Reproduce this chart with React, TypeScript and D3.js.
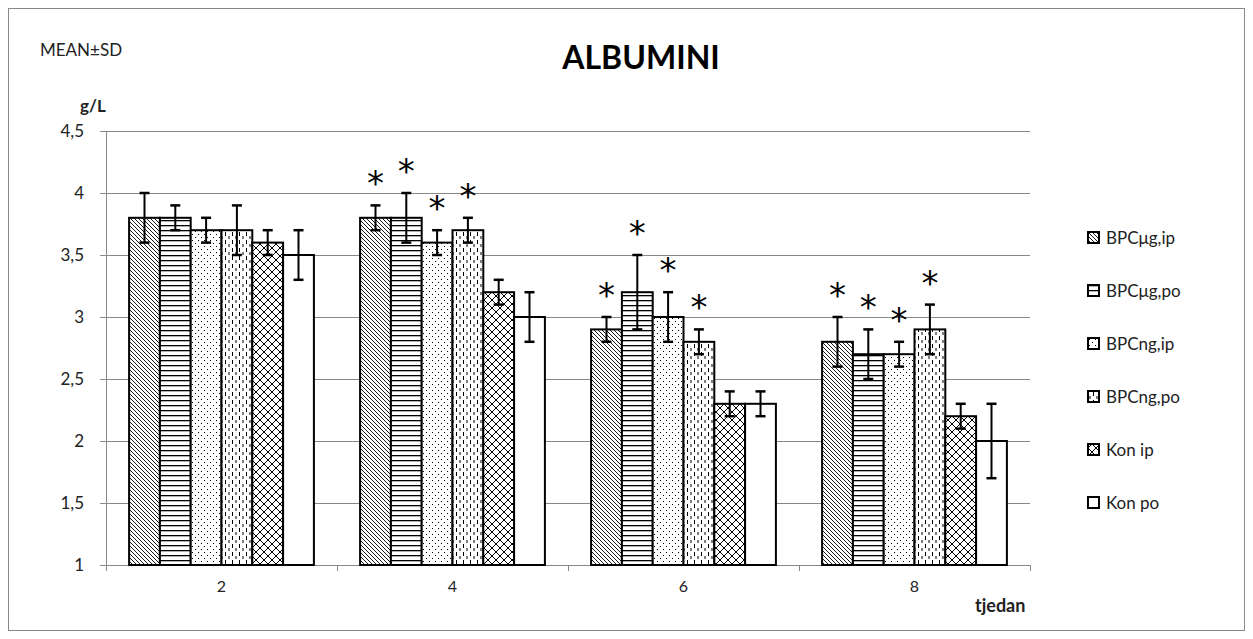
import React from "react";
import * as d3 from "d3";

const weeks = ["2", "4", "6", "8"];
const seriesNames = ["BPCμg,ip", "BPCμg,po", "BPCng,ip", "BPCng,po", "Kon ip", "Kon po"];
// means per series, across weeks
const means = [
  [3.8, 3.8, 2.9, 2.8],
  [3.8, 3.8, 3.2, 2.7],
  [3.7, 3.6, 3.0, 2.7],
  [3.7, 3.7, 2.8, 2.9],
  [3.6, 3.2, 2.3, 2.2],
  [3.5, 3.0, 2.3, 2.0],
];
const sds = [
  [0.2, 0.1, 0.1, 0.2],
  [0.1, 0.2, 0.3, 0.2],
  [0.1, 0.1, 0.2, 0.1],
  [0.2, 0.1, 0.1, 0.2],
  [0.1, 0.1, 0.1, 0.1],
  [0.2, 0.2, 0.1, 0.3],
];
const significant = [
  [false, true, true, true],
  [false, true, true, true],
  [false, true, true, true],
  [false, true, true, true],
  [false, false, false, false],
  [false, false, false, false],
];
const yTicks = [1, 1.5, 2, 2.5, 3, 3.5, 4, 4.5];
const patternIds = ["p-diag", "p-hor", "p-dots", "p-vdash", "p-lattice", "p-none"];

const FONT = "Lato, 'Open Sans', sans-serif";

export default function App() {
  const left = 106, right = 1030, top = 131, bottom = 565;
  const y = d3.scaleLinear().domain([1, 4.5]).range([bottom, top]);
  const x0 = d3.scaleBand<string>().domain(weeks).range([left, right]).paddingInner(0.2).paddingOuter(0.1);
  const x1 = d3.scaleBand<string>().domain(seriesNames).range([0, x0.bandwidth()]).padding(0);
  const fmt = (v: number) => String(v).replace(".", ",");
  const step = x0.step();
  const boundaries = d3.range(weeks.length + 1).map((i) => left + i * step);

  return (
    <svg width={1253} height={639} style={{ position: "absolute", left: 0, top: 0 }}>
      <defs>
        <pattern id="p-diag" patternUnits="userSpaceOnUse" width={4} height={4}>
          <rect width={4} height={4} fill="white" />
          <path d="M0,0 L4,4 M-1,3 L1,5 M3,-1 L5,1" stroke="black" strokeWidth={0.9} />
        </pattern>
        <pattern id="p-hor" patternUnits="userSpaceOnUse" width={8} height={5}>
          <rect width={8} height={5} fill="white" />
          <rect x={0} y={0} width={8} height={1.3} fill="black" />
        </pattern>
        <pattern id="p-dots" patternUnits="userSpaceOnUse" width={6} height={6}>
          <rect width={6} height={6} fill="white" />
          <rect x={0} y={0} width={1} height={1} fill="black" />
          <rect x={3} y={3} width={1} height={1} fill="black" />
        </pattern>
        <pattern id="p-vdash" patternUnits="userSpaceOnUse" width={7} height={8}>
          <rect width={7} height={8} fill="white" />
          <rect x={1} y={0} width={1} height={4} fill="black" />
          <rect x={4.5} y={4} width={1} height={3} fill="black" />
        </pattern>
        <pattern id="p-lattice" patternUnits="userSpaceOnUse" width={8} height={8}>
          <rect width={8} height={8} fill="white" />
          <path d="M0,0 L8,8 M8,0 L0,8" stroke="black" strokeWidth={1} />
        </pattern>
        <pattern id="p-none" patternUnits="userSpaceOnUse" width={4} height={4}>
          <rect width={4} height={4} fill="white" />
        </pattern>
      </defs>

      <rect x={8.5} y={8.5} width={1236} height={622} fill="white" stroke="#888" strokeWidth={1} />

      {/* gridlines */}
      {yTicks.map((t) => (
        <line key={"g" + t} x1={left - 6} x2={right} y1={Math.round(y(t)) + 0.5} y2={Math.round(y(t)) + 0.5} stroke="#888" strokeWidth={1} />
      ))}
      {yTicks.map((t) => (
        <text key={"t" + t} x={left - 22} y={y(t) + 6} textAnchor="end" fontFamily={FONT} fontSize={17} fill="#222">
          {fmt(t)}
        </text>
      ))}
      <line x1={left + 0.5} x2={left + 0.5} y1={top} y2={bottom + 6} stroke="#888" />
      {boundaries.map((b, i) => (
        <line key={"xb" + i} x1={Math.round(b) + 0.5} x2={Math.round(b) + 0.5} y1={bottom} y2={bottom + 6} stroke="#888" />
      ))}
      {weeks.map((w) => (
        <text key={"xl" + w} x={(x0(w) as number) + x0.bandwidth() / 2} y={bottom + 27} textAnchor="middle" fontFamily={FONT} fontSize={16} fill="#222">
          {w}
        </text>
      ))}

      {/* bars */}
      {seriesNames.map((s, si) =>
        weeks.map((w, wi) => {
          const bx = (x0(w) as number) + (x1(s) as number);
          const v = means[si][wi];
          return (
            <rect key={s + w} x={bx} y={y(v)} width={x1.bandwidth()} height={bottom - y(v)} fill={`url(#${patternIds[si]})`} stroke="black" strokeWidth={2} />
          );
        })
      )}

      {/* error bars and asterisks */}
      {seriesNames.map((s, si) =>
        weeks.map((w, wi) => {
          const cx = (x0(w) as number) + (x1(s) as number) + x1.bandwidth() / 2;
          const v = means[si][wi];
          const sd = sds[si][wi];
          const yt = y(v + sd), yb = y(v - sd);
          return (
            <g key={"e" + s + w}>
              <line x1={cx} x2={cx} y1={yt} y2={yb} stroke="black" strokeWidth={2} />
              <line x1={cx - 5} x2={cx + 5} y1={yt} y2={yt} stroke="black" strokeWidth={2.5} />
              <line x1={cx - 5} x2={cx + 5} y1={yb} y2={yb} stroke="black" strokeWidth={2.5} />
              {significant[si][wi] && (
                <text x={cx} y={yt - 10} textAnchor="middle" fontFamily="'DejaVu Sans', sans-serif" fontSize={34} fill="black">
                  *
                </text>
              )}
            </g>
          );
        })
      )}

      {/* legend */}
      {seriesNames.map((s, si) => {
        const ly = 237 + si * 53;
        return (
          <g key={"lg" + s}>
            <rect x={1088} y={ly - 5} width={11} height={11} fill={`url(#${patternIds[si]})`} stroke="black" strokeWidth={2} />
            <text x={1106} y={ly + 7} fontFamily={FONT} fontSize={17} fill="#222">
              {s}
            </text>
          </g>
        );
      })}

      <text x={641} y={69} textAnchor="middle" fontFamily={FONT} fontWeight="bold" fontSize={32} fill="black">
        ALBUMINI
      </text>
      <text x={40} y={56} fontFamily={FONT} fontSize={17} fill="#222">
        MEAN±SD
      </text>
      <text x={80} y={112} fontFamily={FONT} fontWeight="bold" fontSize={17} fill="#222">
        g/L
      </text>
      <text x={975} y={612} fontFamily={FONT} fontWeight="bold" fontSize={18} fill="#222">
        tjedan
      </text>
    </svg>
  );
}
